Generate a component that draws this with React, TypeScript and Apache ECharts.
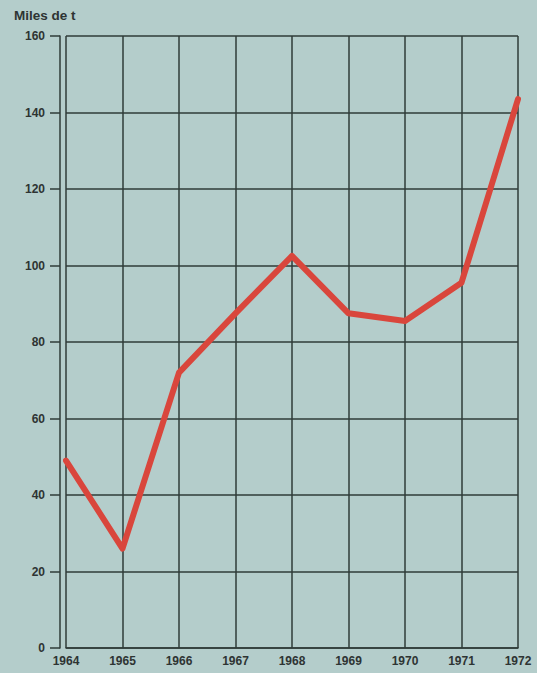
import React, { useEffect, useRef } from "react";
import * as echarts from "echarts";

const years = ["1964", "1965", "1966", "1967", "1968", "1969", "1970", "1971", "1972"];
const values = [49, 26, 72, 87.5, 102.5, 87.5, 85.5, 95.5, 143.5];
const yTicks = { min: 0, max: 160, interval: 20 };
const unitLabel = "Miles de t";

export default function App() {
  const ref = useRef<HTMLDivElement>(null);
  useEffect(() => {
    if (!ref.current) return;
    const chart = echarts.init(ref.current, null, { renderer: "svg" });
    const textColor = "#2e3433";
    const gridColor = "#2f3b39";
    chart.setOption({
      animation: false,
      backgroundColor: "#b4cdcb",
      title: {
        text: unitLabel,
        left: 9,
        top: 3,
        textStyle: { fontFamily: "Liberation Sans", fontWeight: "bold", fontSize: 13.5, color: textColor },
      },
      grid: { left: 66, right: 19, top: 36, bottom: 25, containLabel: false },
      xAxis: {
        type: "category",
        data: years,
        boundaryGap: false,
        axisLine: { show: true, lineStyle: { color: gridColor, width: 1.5 } },
        axisTick: { show: false },
        axisLabel: {
          fontFamily: "Liberation Sans",
          fontWeight: "bold",
          fontSize: 12,
          color: textColor,
          margin: 7,
          interval: 0,
        },
        splitLine: { show: true, interval: 0, lineStyle: { color: gridColor, width: 1.5 } },
      },
      yAxis: {
        type: "value",
        min: yTicks.min,
        max: yTicks.max,
        interval: yTicks.interval,
        offset: 6,
        axisLine: { show: true, lineStyle: { color: gridColor, width: 1.5 } },
        axisTick: { show: true, length: 10, lineStyle: { color: gridColor, width: 1.5 } },
        axisLabel: {
          fontFamily: "Liberation Sans",
          fontWeight: "bold",
          fontSize: 12,
          color: textColor,
          margin: 15,
        },
        splitLine: { show: true, lineStyle: { color: gridColor, width: 1.5 } },
      },
      series: [
        {
          type: "line",
          data: values,
          symbol: "none",
          lineStyle: { color: "#d9463c", width: 6, cap: "round", join: "round" },
          z: 5,
        },
      ],
    });
    return () => chart.dispose();
  }, []);
  return (
    <div
      ref={ref}
      style={{ position: "fixed", left: 0, top: 0, width: 537, height: 673 }}
    />
  );
}
